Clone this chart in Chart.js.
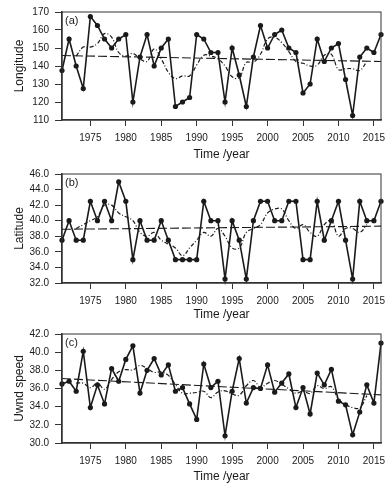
<!DOCTYPE html>
<html>
<head>
<meta charset="utf-8">
<script src="https://cdn.jsdelivr.net/npm/chart.js@4.4.0/dist/chart.umd.min.js"></script>
<style>
  html, body { margin: 0; padding: 0; background: #fff; }
  #wrap { position: relative; width: 392px; height: 488px; }
  canvas { position: absolute; left: 0; }
</style>
</head>
<body>
<div id="wrap">
  <canvas id="lonChart" width="392" height="162" style="top:0px"></canvas>
  <canvas id="latChart" width="392" height="160" style="top:162px"></canvas>
  <canvas id="uwndChart" width="392" height="162" style="top:322px"></canvas>
</div>
<script>
// years on the x axis
const years = [1971, 1972, 1973, 1974, 1975, 1976, 1977, 1978, 1979, 1980,
  1981, 1982, 1983, 1984, 1985, 1986, 1987, 1988, 1989, 1990,
  1991, 1992, 1993, 1994, 1995, 1996, 1997, 1998, 1999, 2000,
  2001, 2002, 2003, 2004, 2005, 2006, 2007, 2008, 2009, 2010,
  2011, 2012, 2013, 2014, 2015, 2016];
const xTicks = [1975, 1980, 1985, 1990, 1995, 2000, 2005, 2010, 2015];
const trendYears = [1971, 2016];
const meanYears = years.slice(2, 44); // 5-yr running mean covers 1973-2014

// (a) longitude
const longitude = [137.5, 155, 140, 127.5, 167.5, 162.5, 155, 150, 155, 157.5,
  120, 145, 157.5, 140, 150, 155, 117.5, 120, 122.5, 157.5,
  155, 147.5, 147.5, 120, 150, 135, 117.5, 145, 162.5, 150,
  157.5, 160, 150, 147.5, 125, 130, 155, 142.5, 150, 152.5,
  132.5, 112.5, 145, 150, 147.5, 157.5];
const longitudeMean = [145.5, 150.5, 150.5, 152.5, 158, 156, 147.5, 145.5, 147, 144,
  142.5, 149.5, 144, 136.5, 133, 134.5, 134.5, 140.5, 146, 145.5,
  144, 140, 134, 133.5, 142, 142, 146.5, 155, 156, 153,
  148, 142.5, 141.5, 140, 140.5, 146, 146.5, 138, 138.5, 138.5,
  137.5, 142.5];
const longitudeTrend = [145.8, 142.5];
const longitudeTicks = [110, 120, 130, 140, 150, 160, 170];

// (b) latitude
const latitude = [37.5, 40, 37.5, 37.5, 42.5, 40, 42.5, 40, 45, 42.5,
  35, 40, 37.5, 37.5, 40, 37.5, 35, 35, 35, 35,
  42.5, 40, 40, 32.5, 40, 37.5, 32.5, 40, 42.5, 42.5,
  40, 40, 42.5, 42.5, 35, 35, 42.5, 37.5, 40, 42.5,
  37.5, 32.5, 42.5, 40, 40, 42.5];
const latitudeMean = [39, 39.5, 40, 40.5, 42, 42, 41, 40.5, 40, 38.5,
  38, 38.5, 37.5, 37, 36.5, 35.5, 36.5, 37.5, 38.5, 38,
  39, 38, 36.5, 36.5, 38.5, 39, 39.5, 41, 41.5, 41.5,
  40, 39, 39.5, 38.5, 38, 39.5, 40, 38, 39, 39,
  38.5, 39.5];
const latitudeTrend = [38.9, 39.3];
const latitudeTicks = [32, 34, 36, 38, 40, 42, 44, 46];

// (c) uwnd speed
const uwnd = [36.5, 36.8, 35.7, 40.1, 33.9, 36.4, 34.3, 38.2, 36.8, 39.2,
  40.7, 35.5, 38.0, 39.3, 37.5, 38.6, 35.7, 36.1, 34.3, 32.6,
  38.7, 36.1, 36.8, 30.8, 35.7, 39.3, 34.4, 36.1, 36.0, 38.6,
  35.6, 36.6, 37.6, 33.9, 36.1, 33.2, 37.7, 36.4, 38.1, 34.6,
  34.2, 30.9, 33.4, 36.4, 34.4, 41.0];
const uwndMean = [36.6, 36.58, 36.08, 36.58, 35.92, 36.98, 37.84, 38.08, 38.04, 38.54,
  38.2, 37.78, 37.82, 37.44, 36.44, 35.46, 35.48, 35.56, 35.7, 35.0,
  35.62, 35.74, 35.4, 35.26, 36.3, 36.88, 36.14, 36.58, 36.88, 36.46,
  35.96, 35.48, 35.7, 35.46, 36.3, 36.0, 36.2, 34.84, 34.24, 33.9,
  33.86, 35.22];
const uwndTrend = [37.1, 35.3];
const uwndTicks = [30, 32, 34, 36, 38, 40, 42];

const FONT = "'Liberation Sans', Arial, sans-serif";
const INK = "#1a1a1a";

// box around the plot + the (a)/(b)/(c) tag
const framePlugin = {
  id: "frame",
  afterDatasetsDraw(chart, args, opts) {
    const { ctx, chartArea: a } = chart;
    ctx.save();
    ctx.strokeStyle = "#333";
    ctx.lineWidth = 1;
    ctx.strokeRect(a.left, a.top, a.right - a.left, a.bottom - a.top);
    ctx.fillStyle = INK;
    ctx.font = "11px " + FONT;
    ctx.textBaseline = "middle";
    ctx.fillText(opts.label, a.left + 3, a.top + 9);
    ctx.restore();
  },
};

function pts(xs, ys) {
  return ys.map((y, i) => ({ x: xs[i], y: y }));
}

function makePanel(id, cfg) {
  const ctx = document.getElementById(id).getContext("2d");
  return new Chart(ctx, {
    type: "line",
    data: {
      datasets: [
        {
          data: pts(years, cfg.values),
          borderColor: INK,
          borderWidth: 1.6,
          pointRadius: 2.6,
          pointBackgroundColor: INK,
          pointBorderWidth: 0,
          tension: 0,
          clip: false,
        },
        {
          data: pts(meanYears, cfg.mean),
          borderColor: INK,
          borderWidth: 1.2,
          borderDash: [4, 2, 1, 2],
          pointRadius: 0,
          tension: 0.4,
        },
        {
          data: pts(trendYears, cfg.trend),
          borderColor: INK,
          borderWidth: 1.1,
          borderDash: [9, 3],
          pointRadius: 0,
        },
      ],
    },
    options: {
      responsive: false,
      animation: false,
      layout: { padding: { top: 7, right: 11, left: 0, bottom: 0 } },
      plugins: {
        legend: { display: false },
        tooltip: { enabled: false },
        frame: { label: cfg.label },
      },
      scales: {
        x: {
          type: "linear",
          min: 1971,
          max: 2016,
          afterFit: (s) => { s.height = cfg.xHeight; },
          afterBuildTicks: (s) => { s.ticks = xTicks.map((v) => ({ value: v })); },
          ticks: {
            callback: (v) => String(v),
            font: { family: FONT, size: 10 },
            color: INK,
            padding: 6,
            maxRotation: 0,
            autoSkip: false,
          },
          grid: { drawOnChartArea: false, tickLength: 6, color: "#333" },
          border: { color: "#333", width: 1.5 },
          title: {
            display: true,
            text: "Time /year",
            font: { family: FONT, size: 12 },
            color: INK,
            padding: { top: 0, bottom: 0 },
          },
        },
        y: {
          min: cfg.ticks[0],
          max: cfg.ticks[cfg.ticks.length - 1],
          afterFit: (s) => { s.width = 62; },
          afterBuildTicks: (s) => { s.ticks = cfg.ticks.map((v) => ({ value: v })); },
          ticks: {
            callback: (v) => v.toFixed(cfg.decimals),
            font: { family: FONT, size: 10 },
            color: INK,
            padding: 6,
          },
          grid: { drawOnChartArea: false, tickLength: 7, color: "#333" },
          border: { color: "#333", width: 1.5 },
          title: {
            display: true,
            text: cfg.title,
            font: { family: FONT, size: 12 },
            color: INK,
            padding: { top: 12, bottom: 0 },
          },
        },
      },
    },
    plugins: [framePlugin],
  });
}

makePanel("lonChart", {
  values: longitude, mean: longitudeMean, trend: longitudeTrend,
  ticks: longitudeTicks, decimals: 0, title: "Longitude", label: "(a)", xHeight: 42,
});
makePanel("latChart", {
  values: latitude, mean: latitudeMean, trend: latitudeTrend,
  ticks: latitudeTicks, decimals: 1, title: "Latitude", label: "(b)", xHeight: 39,
});
makePanel("uwndChart", {
  values: uwnd, mean: uwndMean, trend: uwndTrend,
  ticks: uwndTicks, decimals: 1, title: "Uwnd speed", label: "(c)", xHeight: 41,
});
</script>
</body>
</html>
